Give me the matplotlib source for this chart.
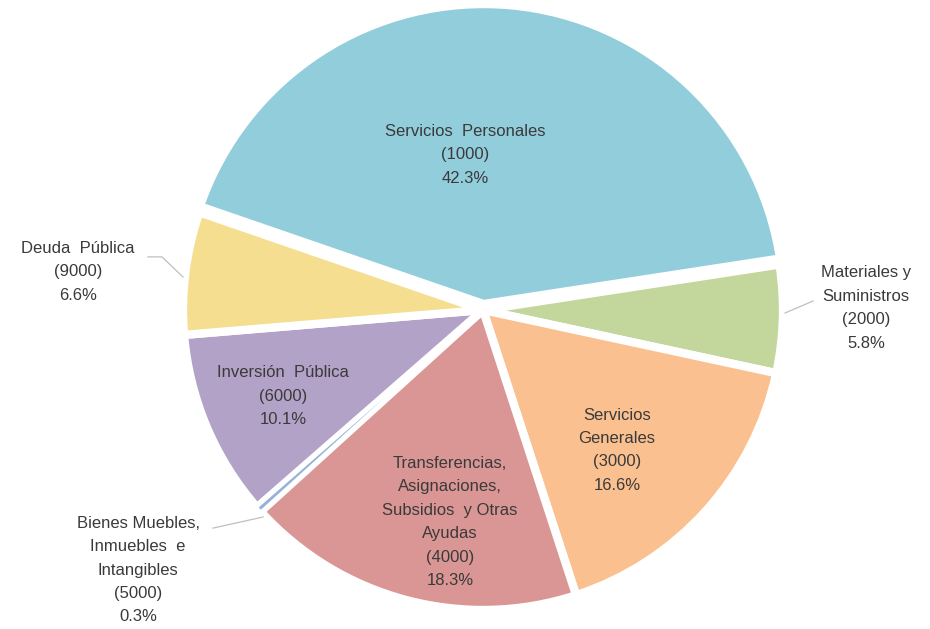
import matplotlib
matplotlib.use("Agg")
import matplotlib.pyplot as plt

categories = ["Servicios  Personales", "Materiales y\nSuministros", "Servicios\nGenerales",
              "Transferencias,\nAsignaciones,\nSubsidios  y Otras\nAyudas",
              "Bienes Muebles,\nInmuebles  e\nIntangibles", "Inversión  Pública", "Deuda  Pública"]
codes = ["1000", "2000", "3000", "4000", "5000", "6000", "9000"]
percentages = [42.3, 5.8, 16.6, 18.3, 0.3, 10.1, 6.6]
colors = ["#92CDDC", "#C3D69B", "#FAC090", "#D99694", "#95B3D7", "#B3A2C7", "#F5DE8F"]

# layout (data coords, radius = 1)
label_pos = [(-0.06, 0.517), (1.277, 0.007), (0.447, -0.467), (-0.11, -0.707),
             (-1.15, -0.867), (-0.667, -0.287), (-1.35, 0.127)]
leaders = {1: [(1.10, 0.03), (1.007, -0.01)],
           4: [(-0.90, -0.727), (-0.733, -0.69)],
           6: [(-1.117, 0.177), (-1.07, 0.177), (-1.0, 0.11)]}

fig = plt.figure(figsize=(9.3, 6.29), dpi=100)
ax = fig.add_axes([0, 0, 1, 1])
explode = [0.02, 0, 0, 0, 0, 0, 0]
wedges, _ = ax.pie(percentages, colors=colors, startangle=161, counterclock=False, explode=explode,
                   wedgeprops=dict(edgecolor="white", linewidth=6))
wedges[4].set_linewidth(1.8)
wedges[4].set_zorder(3)
ax.set_xlim(-483 / 300, (930 - 483) / 300)
ax.set_ylim(-(629 - 310) / 300, 310 / 300)
ax.set_aspect("auto")
ax.axis("off")

for i, (cat, code, p) in enumerate(zip(categories, codes, percentages)):
    x, y = label_pos[i]
    ax.text(x, y, f"{cat}\n({code})\n{p:.1f}%", ha="center", va="center",
            fontsize=12, color="#3A3A3A", family="Liberation Sans", linespacing=1.7, zorder=5)
for pts in leaders.values():
    xs, ys = zip(*pts)
    ax.plot(xs, ys, color="#BFBFBF", lw=0.9)

fig.savefig("out.png", dpi=100)
